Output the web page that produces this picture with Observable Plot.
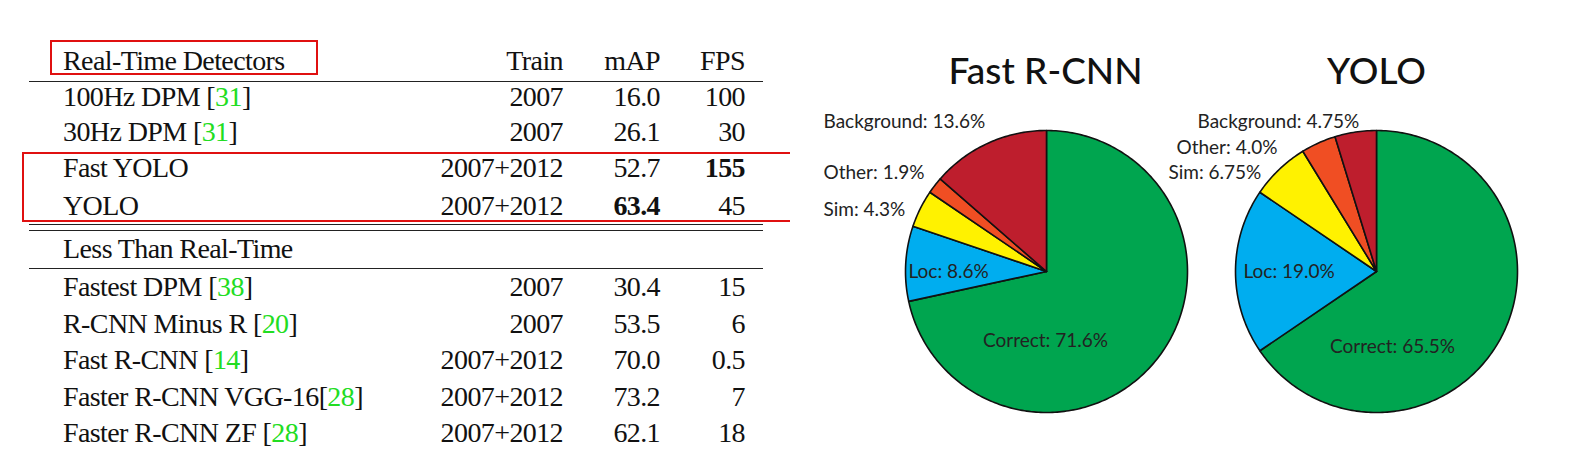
<!DOCTYPE html>
<html><head><meta charset="utf-8">
<script src="https://cdn.jsdelivr.net/npm/d3@7"></script>
<script src="https://cdn.jsdelivr.net/npm/@observablehq/plot@0.6"></script>
<style>
body{margin:0;background:#fff;width:1579px;height:450px;overflow:hidden;position:relative}
#tbl{position:absolute;left:0;top:0;width:790px;height:450px;font-family:"Liberation Serif",serif;font-size:28px;color:#111}
.t{position:absolute;white-space:nowrap;line-height:1;letter-spacing:-0.6px}
.r{text-align:right}
.g{color:#22dd22}
.hl{position:absolute;left:29px;width:734px;height:0;border-top:1.3px solid #222}
.box{position:absolute;border:2.5px solid #e01010}
#pies{position:absolute;left:790px;top:0}
</style></head><body>
<div id="tbl"></div>
<div id="pies"></div>
<script>
// table
const headers = ["Train", "mAP", "FPS"];
const methods = ["100Hz DPM ", "30Hz DPM ", "Fast YOLO", "YOLO", "Fastest DPM ", "R-CNN Minus R ", "Fast R-CNN ", "Faster R-CNN VGG-16", "Faster R-CNN ZF "];
const refs = ["31", "31", "", "", "38", "20", "14", "28", "28"];
const train = ["2007", "2007", "2007+2012", "2007+2012", "2007", "2007", "2007+2012", "2007+2012", "2007+2012"];
const mAP = ["16.0", "26.1", "52.7", "63.4", "30.4", "53.5", "70.0", "73.2", "62.1"];
const fps = ["100", "30", "155", "45", "15", "6", "0.5", "7", "18"];

// pies
const categories = ["Correct", "Loc", "Sim", "Other", "Background"];
const fastRcnn = [71.6, 8.6, 4.3, 1.9, 13.6];
const yolo = [65.5, 19.0, 6.75, 4.0, 4.75];
const yoloLabels = ["65.5%", "19.0%", "6.75%", "4.0%", "4.75%"];
const fastLabels = ["71.6%", "8.6%", "4.3%", "1.9%", "13.6%"];
const colors = ["#00a54f", "#00adef", "#fff200", "#f04e23", "#be1e2d"];

const tbl = document.getElementById("tbl");
const rowMid = [96, 131, 167, 205, 286, 323, 359, 396, 432];
const add = (html, style, cls = "t") => { const d = document.createElement("div"); d.className = cls; d.innerHTML = html; d.style.cssText = style; tbl.appendChild(d); };
const dy = 13;
add("Real-Time Detectors", `left:63px;top:${60 - dy}px`);
[563, 660, 745].forEach((x, i) => add(headers[i], `right:${790 - x}px;top:${60 - dy}px`, "t r"));
add("Less Than Real-Time", `left:63px;top:${248 - dy}px`);
methods.forEach((m, i) => {
  const top = rowMid[i] - dy;
  add(m + (refs[i] ? `[<span class="g">${refs[i]}</span>]` : ""), `left:63px;top:${top}px`);
  add(train[i], `right:${790 - 563}px;top:${top}px`, "t r");
  add(mAP[i] === "63.4" ? `<b>${mAP[i]}</b>` : mAP[i], `right:${790 - 660}px;top:${top}px`, "t r");
  add(fps[i] === "155" ? `<b>${fps[i]}</b>` : fps[i], `right:${790 - 745}px;top:${top}px`, "t r");
});
[81, 224, 230, 268].forEach(y => add("", `top:${y}px`, "hl"));
add("", "left:50px;top:40px;width:264px;height:31px", "box");
add("", "left:22px;top:152px;width:780px;height:66px", "box");

// pie polygons computed from the values
function slices(values, cx, cy, r, pie) {
  const total = d3.sum(values);
  const pts = [];
  let a0 = 0;
  values.forEach((v, i) => {
    const a1 = a0 + v / total * 2 * Math.PI;
    pts.push({pie, cat: categories[i], x: cx, y: cy});
    const n = Math.max(2, Math.ceil((a1 - a0) * 60));
    for (let k = 0; k <= n; k++) {
      const a = a0 + (a1 - a0) * k / n;
      pts.push({pie, cat: categories[i], x: cx + r * Math.sin(a), y: cy - r * Math.cos(a)});
    }
    pts.push({pie, cat: categories[i], x: cx, y: cy});
    a0 = a1;
  });
  return pts;
}
const off = 790;
const R = 141;
const pts = slices(fastRcnn, 1046 - off, 271, R, "f").concat(slices(yolo, 1376 - off, 271, R, "y"));

// label layout (x, y, anchor)
const fastPos = [[1045, 340, "middle"], [908, 271, "start"], [823, 209, "start"], [823, 172, "start"], [823, 121, "start"]];
const yoloPos = [[1392, 346, "middle"], [1243, 271, "start"], [1168, 172, "start"], [1176, 147, "start"], [1197, 121, "start"]];
const labels = [];
categories.forEach((c, i) => {
  labels.push({x: fastPos[i][0] - off, y: fastPos[i][1], a: fastPos[i][2], t: `${c}: ${fastLabels[i]}`});
  labels.push({x: yoloPos[i][0] - off, y: yoloPos[i][1], a: yoloPos[i][2], t: `${c}: ${yoloLabels[i]}`});
});
const titles = [{x: 1045 - off, y: 72, t: "Fast R-CNN"}, {x: 1376 - off, y: 72, t: "YOLO"}];

const chart = Plot.plot({
  width: 789, height: 450, margin: 0,
  x: {domain: [0, 789], axis: null},
  y: {domain: [450, 0], axis: null},
  color: {domain: categories, range: colors},
  style: {fontFamily: "Lato, 'DejaVu Sans', sans-serif", background: "white"},
  marks: [
    Plot.line(pts, {x: "x", y: "y", z: d => d.pie + d.cat, fill: "cat", stroke: "#111", strokeWidth: 1.6, curve: "linear-closed"}),
    Plot.text(labels.filter(d => d.a === "start"), {x: "x", y: "y", text: "t", textAnchor: "start", fontSize: 19, fill: "#222"}),
    Plot.text(labels.filter(d => d.a === "middle"), {x: "x", y: "y", text: "t", textAnchor: "middle", fontSize: 19, fill: "#222"}),
    Plot.text(titles, {x: "x", y: "y", text: "t", fontSize: 37, fill: "#111", fontWeight: 500})
  ]
});
document.getElementById("pies").append(chart);
</script>
</body></html>
